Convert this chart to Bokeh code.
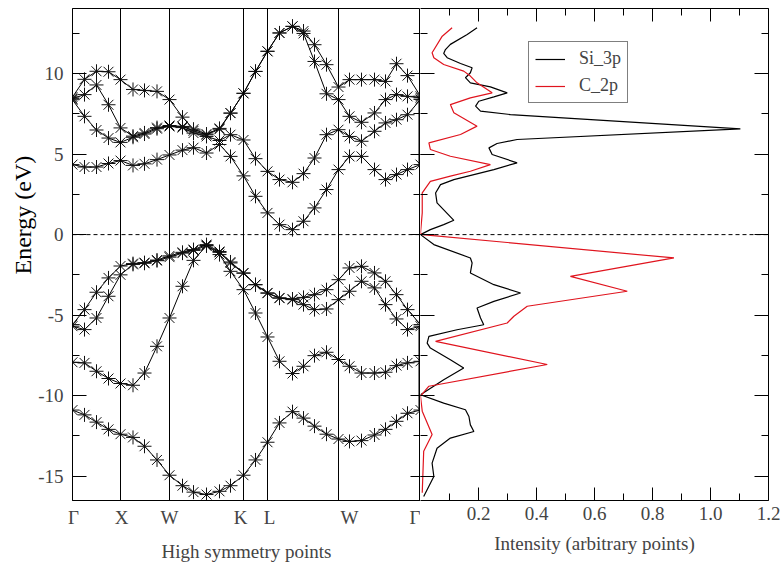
from bokeh.plotting import figure
from bokeh.models import Range1d, FixedTicker, LinearAxis, Span, Legend, LegendItem, Title
from bokeh.layouts import row
from bokeh.embed import file_html
from bokeh.resources import INLINE

# ---------------- data ----------------
# k-path positions of the 30 k-points (arbitrary path units)
kx = [0, 12, 24, 36, 48, 60.5, 72, 84.5, 97, 110, 121, 134, 147, 158, 171,
      183, 195, 207, 220, 231, 242, 254, 266, 277, 289, 302, 313, 324, 335, 348]
sym_pos = [0, 48, 97, 171, 195, 266, 348]          # high-symmetry lines
sym_labels = ["Γ", "X", "W", "K", "L", "W", "Γ"]
sym_label_pos = [1, 49, 97, 168, 197, 277, 343]     # where the labels sit

# valence bands (eV)
band1 = [-10.9, -11.2, -11.65, -12.1, -12.4, -12.6, -13.15, -14.0, -14.95, -15.6,
         -16.0, -16.15, -15.95, -15.6, -14.95, -14.0, -12.9, -11.7, -11.0, -11.4,
         -11.9, -12.4, -12.7, -12.85, -12.8, -12.45, -12.1, -11.6, -11.1, -10.9]
band2 = [-7.93, -7.97, -8.49, -8.94, -9.25, -9.36, -8.6, -6.94, -5.18, -3.21,
         -1.6, -0.68, -1.24, -2.28, -3.42, -4.87, -6.36, -7.87, -8.63, -8.18,
         -7.52, -7.31, -7.76, -8.18, -8.6, -8.6, -8.55, -8.14, -7.97, -7.87]
band3 = [-5.69, -5.9, -5.18, -3.83, -2.5, -1.85, -1.78, -1.62, -1.4, -1.15,
         -0.98, -0.7, -1.1, -1.76, -2.4, -3.12, -3.64, -3.95, -4.04, -4.35,
         -4.66, -4.62, -4.04, -3.52, -2.9, -3.31, -4.35, -5.24, -5.9, -5.69]
band4 = [-5.59, -4.66, -3.58, -2.69, -1.95, -1.8, -1.74, -1.58, -1.32, -1.1,
         -0.93, -0.62, -1.05, -1.7, -2.38, -3.1, -3.62, -3.93, -4.0, -3.9,
         -3.73, -3.42, -2.8, -2.07, -1.97, -2.38, -2.9, -3.73, -4.66, -5.59]
# conduction bands (eV)
band5 = [4.35, 4.2, 4.2, 4.42, 4.6, 4.3, 4.4, 4.66, 4.95, 5.25,
         5.4, 5.07, 5.6, 4.86, 3.65, 2.38, 1.35, 0.62, 0.31, 0.83,
         1.66, 2.8, 4.04, 4.86, 4.86, 4.04, 3.42, 3.73, 4.04, 4.35]
band6 = [8.38, 7.35, 6.5, 6.0, 5.73, 6.05, 6.25, 6.58, 6.72, 6.65,
         6.31, 6.1, 5.85, 6.21, 5.88, 4.72, 3.93, 3.42, 3.25, 3.79,
         4.76, 6.21, 6.52, 6.1, 5.8, 6.42, 6.94, 7.14, 7.45, 8.4]
band7 = [8.45, 8.7, 9.3, 8.07, 6.63, 6.12, 6.32, 6.65, 6.78, 6.72,
         6.45, 6.2, 6.55, 7.55, 8.78, 10.14, 11.39, 12.53, 12.94, 12.5,
         10.76, 8.75, 8.39, 7.35, 6.98, 7.56, 8.39, 8.7, 8.59, 8.5]
band8 = [8.55, 9.65, 10.15, 10.12, 9.63, 9.02, 8.96, 8.9, 8.39, 7.3,
         6.55, 6.25, 6.6, 7.55, 8.78, 10.14, 11.39, 12.53, 12.94, 12.65,
         11.8, 10.56, 9.17, 9.63, 9.63, 9.63, 9.52, 10.62, 9.88, 8.6]
bands = [band1, band2, band3, band4, band5, band6, band7, band8]

# projected DOS: (intensity, energy)
si3p_I = [0.195, 0.161, 0.103, 0.086, 0.080, 0.092, 0.138, 0.178, 0.172, 0.155,
          0.172, 0.241, 0.299, 0.253, 0.201, 0.190, 0.207, 0.31, 1.103, 0.333,
          0.264, 0.236, 0.247, 0.333, 0.253, 0.115, 0.069, 0.052, 0.057, 0.115,
          0.080, 0.034, 0.0,
          0.046, 0.172, 0.178, 0.172, 0.253, 0.345, 0.253, 0.195, 0.207, 0.218,
          0.126, 0.029, 0.023, 0.034, 0.103, 0.149, 0.080, 0.0, 0.080, 0.155,
          0.167, 0.172, 0.184, 0.103, 0.057, 0.040, 0.046, 0.011]
si3p_E = [12.85, 12.44, 11.82, 11.5, 11.26, 10.99, 10.63, 10.37, 10.06, 9.75,
          9.43, 9.18, 8.81, 8.56, 8.29, 7.98, 7.67, 7.46, 6.57, 5.91,
          5.66, 5.39, 4.98, 4.46, 4.04, 3.42, 3.11, 2.59, 1.97, 0.89,
          0.62, 0.31, 0.0,
          -0.62, -1.45, -1.76, -2.38, -3.11, -3.63, -4.15, -4.56, -5.18, -5.6,
          -5.91, -6.32, -6.74, -7.05, -7.77, -8.29, -9.02, -9.95, -10.47, -10.88,
          -11.3, -11.82, -12.23, -12.64, -13.27, -14.2, -15.03, -16.27]
c2p_I = [0.109, 0.075, 0.04, 0.046, 0.080, 0.149, 0.172, 0.195, 0.247, 0.172,
         0.103, 0.115, 0.195, 0.138, 0.029, 0.034, 0.103, 0.241, 0.172, 0.103,
         0.034, 0.006, 0.006, 0.0,
         0.006, 0.874, 0.517, 0.713, 0.368, 0.322, 0.299, 0.052, 0.437, 0.029,
         0.0, 0.006, 0.04, 0.011, 0.006]
c2p_E = [12.85, 12.33, 11.3, 10.99, 10.57, 10.16, 9.85, 9.43, 8.81, 8.5,
         8.08, 7.57, 6.74, 6.22, 5.7, 5.29, 4.87, 4.35, 3.94, 3.63,
         3.31, 2.59, 1.35, 0.1,
         0.0, -1.45, -2.59, -3.52, -4.45, -5.07, -5.49, -6.63, -8.07, -9.42,
         -10.04, -10.97, -12.42, -13.46, -16.04]

y_major = [-15, -10, -5, 0, 5, 10]
y_major_labels = ["-15", "-10", "-5", "0", "5", "10"]
y_minor = [-15, -12.5, -10, -7.5, -5, -2.5, 0, 2.5, 5, 7.5, 10, 12.5]
x_major = [0.2, 0.4, 0.6, 0.8, 1.0, 1.2]
x_major_labels = ["0.2", "0.4", "0.6", "0.8", "1.0", "1.2"]
x_minor = [0.1, 0.3, 0.5, 0.7, 0.9, 1.1]

# ---------------- style ----------------
FONT = "Liberation Serif"
YMIN, YMAX = -16.52, 14.05
TICK_FS = "19px"
TITLE_FS = "19px"


def hidden_axis(ax, tin, mtin, line=None):
    ax.major_label_text_color = None
    ax.major_label_text_font_size = "1px"
    ax.major_label_standoff = 0
    ax.major_tick_in = tin
    ax.major_tick_out = 0
    ax.minor_tick_in = mtin
    ax.minor_tick_out = 0
    ax.axis_line_color = line


# ---------------- band structure panel ----------------
p1 = figure(frame_width=348, frame_height=492,
            x_range=Range1d(0, 348), y_range=Range1d(YMIN, YMAX),
            output_backend="svg", toolbar_location=None,
            min_border_left=72, min_border_right=0, min_border_top=8, min_border_bottom=52)
p1.grid.visible = False
p1.outline_line_color = "black"

xa = p1.xaxis[0]
xa.ticker = FixedTicker(ticks=sym_label_pos, minor_ticks=[])
xa.major_label_overrides = {p: l for p, l in zip(sym_label_pos, sym_labels)}
xa.major_tick_in = 0
xa.major_tick_out = 0
xa.major_label_standoff = 6
xa.major_label_text_font = FONT
xa.major_label_text_font_size = TICK_FS
xa.axis_label = "High symmetry points"
xa.axis_label_text_font = FONT
xa.axis_label_text_font_size = TITLE_FS
xa.axis_label_text_font_style = "normal"
xa.axis_label_standoff = 10

ya = p1.yaxis[0]
ya.ticker = FixedTicker(ticks=y_major, minor_ticks=y_minor)
ya.major_label_overrides = {t: l for t, l in zip(y_major, y_major_labels)}
ya.major_tick_in = 14
ya.major_tick_out = 0
ya.minor_tick_in = 7
ya.minor_tick_out = 0
ya.major_label_standoff = 9
ya.major_label_text_font = FONT
ya.major_label_text_font_size = TICK_FS

# y title as a side title (the reference one sits above the frame centre)
p1.add_layout(Title(text="Energy (eV)", align="left", offset=226, standoff=0,
                    text_font=FONT, text_font_size="24px", text_font_style="normal",
                    text_color="black"), "left")

ra = LinearAxis(ticker=FixedTicker(ticks=y_major, minor_ticks=y_minor))
hidden_axis(ra, 10, 7)
p1.add_layout(ra, "right")

for pos in sym_pos[1:-1]:
    p1.add_layout(Span(location=pos, dimension="height", line_color="black", line_width=1))
p1.add_layout(Span(location=0, dimension="width", line_color="black",
                   line_width=1, line_dash="4 3"))

for b in bands:
    p1.line(kx, b, line_color="black", line_width=1)
    p1.scatter(kx, b, marker="asterisk", size=14, line_color="#111111", line_width=1)

# heavy joins of the band set at the closing Gamma point
p1.segment(x0=[kx[-1], kx[-1]], y0=[band5[-1], band1[-1]],
           x1=[kx[-1], kx[-1]], y1=[band8[-1], band3[-1]],
           line_color="black", line_width=4)

# ---------------- DOS panel ----------------
p2 = figure(frame_width=348, frame_height=492,
            x_range=Range1d(0, 1.2), y_range=p1.y_range,
            output_backend="svg", toolbar_location=None,
            min_border_left=0, min_border_right=13, min_border_top=8, min_border_bottom=52)
p2.grid.visible = False
p2.outline_line_color = None

xb = p2.xaxis[0]
xb.ticker = FixedTicker(ticks=x_major, minor_ticks=x_minor)
xb.major_label_overrides = {t: l for t, l in zip(x_major, x_major_labels)}
xb.major_tick_in = 13
xb.major_tick_out = 0
xb.minor_tick_in = 7
xb.minor_tick_out = 0
xb.major_label_standoff = 6
xb.major_label_text_font = FONT
xb.major_label_text_font_size = TICK_FS
xb.axis_label = "Intensity (arbitrary points)"
xb.axis_label_text_font = FONT
xb.axis_label_text_font_size = TITLE_FS
xb.axis_label_text_font_style = "normal"
xb.axis_label_standoff = 10
xb.axis_line_color = "black"

hidden_axis(p2.yaxis[0], 14, 7)
p2.yaxis[0].ticker = FixedTicker(ticks=y_major, minor_ticks=y_minor)

ta = LinearAxis(ticker=FixedTicker(ticks=x_major, minor_ticks=x_minor))
hidden_axis(ta, 13, 7, "black")
p2.add_layout(ta, "above")
rb = LinearAxis(ticker=FixedTicker(ticks=y_major, minor_ticks=y_minor))
hidden_axis(rb, 14, 7, "black")
p2.add_layout(rb, "right")

p2.add_layout(Span(location=0, dimension="width", line_color="black",
                   line_width=1, line_dash="4 3"))

r_si = p2.line(si3p_I, si3p_E, line_color="black", line_width=1.2)
r_c = p2.line(c2p_I, c2p_E, line_color="#e0141e", line_width=1.2)

legend = Legend(items=[LegendItem(label="Si_3p", renderers=[r_si]),
                       LegendItem(label="C_2p", renderers=[r_c])],
                location=(108, 397))
legend.label_text_font = FONT
legend.label_text_font_size = "18px"
legend.border_line_color = "black"
legend.border_line_width = 1
legend.padding = 6
legend.margin = 0
legend.spacing = 6
legend.glyph_width = 30
legend.glyph_height = 20
legend.label_height = 20
legend.label_standoff = 14
legend.background_fill_alpha = 1
p2.add_layout(legend)

layout = row(p1, p2, spacing=0)
open("out.html", "w").write(file_html(layout, INLINE))
